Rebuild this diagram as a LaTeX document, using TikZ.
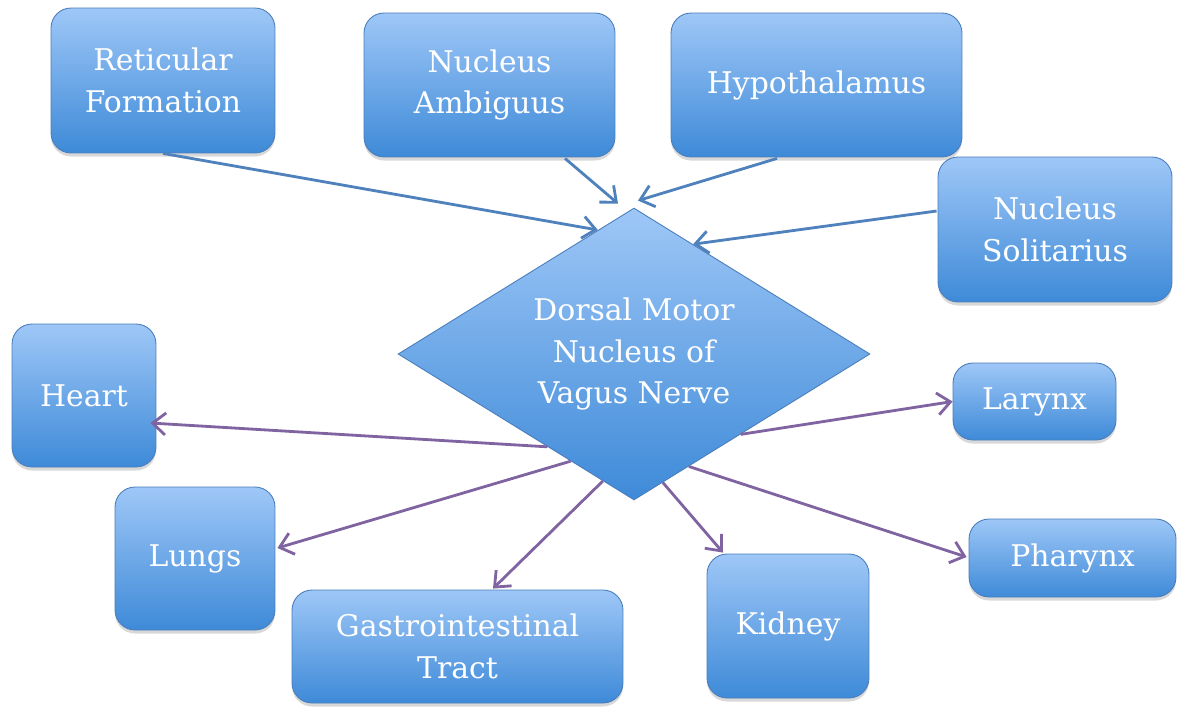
\documentclass[tikz,border=0pt]{standalone}
\usepackage{fontspec}
\setmainfont{DejaVu Serif}
\usetikzlibrary{shapes.geometric,arrows.meta,shadows,calc}
\definecolor{boxtop}{RGB}{158,199,247}
\definecolor{boxbot}{RGB}{62,138,216}
\definecolor{boxline}{RGB}{74,126,187}
\definecolor{inline}{RGB}{79,129,189}
\definecolor{outline}{RGB}{128,100,162}
\begin{document}
\begin{tikzpicture}[x=0.02cm,y=-0.02cm,
  box/.style={draw=boxline, line width=0.5pt, rounded corners=0.4cm,
    top color=boxtop, bottom color=boxbot, text=white, align=center,
    inner sep=0pt, font=\fontsize{17}{23.6}\selectfont,
    drop shadow={opacity=0.3, shadow xshift=0pt, shadow yshift=-2pt}},
  hub/.style={diamond, draw=boxline, line width=0.5pt, top color=boxtop,
    bottom color=boxbot, text=white, align=center, inner sep=0pt,
    font=\fontsize{17}{23.6}\selectfont},
  inarrow/.style={draw=inline, line width=1.6pt,
    -{Straight Barb[length=0.26cm,width=0.44cm]}},
  outarrow/.style={draw=outline, line width=1.6pt,
    -{Straight Barb[length=0.26cm,width=0.44cm]}}]
\fill[white] (0,0) rectangle (1179,708);
\useasboundingbox (0,0) rectangle (1179,708);

% boxes
\node[box, minimum width=4.48cm, minimum height=2.90cm] (R) at (163,80.5) {Reticular\\Formation};
\node[box, minimum width=5.02cm, minimum height=2.88cm] (NA) at (489.5,85) {Nucleus\\Ambiguus};
\node[box, minimum width=5.82cm, minimum height=2.88cm] (H) at (816.5,85) {Hypothalamus};
\node[box, minimum width=4.68cm, minimum height=2.90cm] (NS) at (1055,229.5) {Nucleus\\Solitarius};
\node[box, minimum width=2.88cm, minimum height=2.86cm] (Heart) at (84,395.5) {Heart};
\node[box, minimum width=3.20cm, minimum height=2.86cm] (Lungs) at (195,558.5) {Lungs};
\node[box, minimum width=6.62cm, minimum height=2.26cm] (GI) at (457.5,646.5) {Gastrointestinal\\Tract};
\node[box, minimum width=3.24cm, minimum height=2.88cm] (Kidney) at (788,626) {Kidney};
\node[box, minimum width=4.14cm, minimum height=1.56cm] (Pharynx) at (1072.5,558) {Pharynx};
\node[box, minimum width=3.26cm, minimum height=1.54cm] (Larynx) at (1034.5,401.5) {Larynx};

% hub
\node[hub, minimum width=9.44cm, minimum height=5.84cm, aspect=1.616] (D) at (634,354) {Dorsal Motor\\Nucleus of\\Vagus Nerve};

% incoming
\draw[inarrow] (R.south) -- ($(D.north)!0.153!(D.west)$);
\draw[inarrow] ([shift={(75.5,1)}]NA.south) -- ([shift={(-16,-4)}]D.north);
\draw[inarrow] ([shift={(-39.5,1)}]H.south) -- ([shift={(4,-7)}]D.north);
\draw[inarrow] ([shift={(-1,-18.5)}]NS.west) -- ($(D.north)!0.25!(D.east)$);

% outgoing
\draw[outarrow] ($(D.west)!0.634!(D.south)$) -- ([shift={(-6,27.5)}]Heart.east);
\draw[outarrow] ($(D.west)!0.732!(D.south)$) -- ([shift={(2,-10.5)}]Lungs.east);
\draw[outarrow] ($(D.west)!0.868!(D.south)$) -- ([shift={(35.5,-1)}]GI.north);
\draw[outarrow] ($(D.south)!0.122!(D.east)$) -- ([shift={(-65,-1)}]Kidney.north);
\draw[outarrow] ($(D.south)!0.232!(D.east)$) -- ([shift={(-2,-1)}]Pharynx.west);
\draw[outarrow] ($(D.south)!0.451!(D.east)$) -- (Larynx.west);
\end{tikzpicture}
\end{document}
